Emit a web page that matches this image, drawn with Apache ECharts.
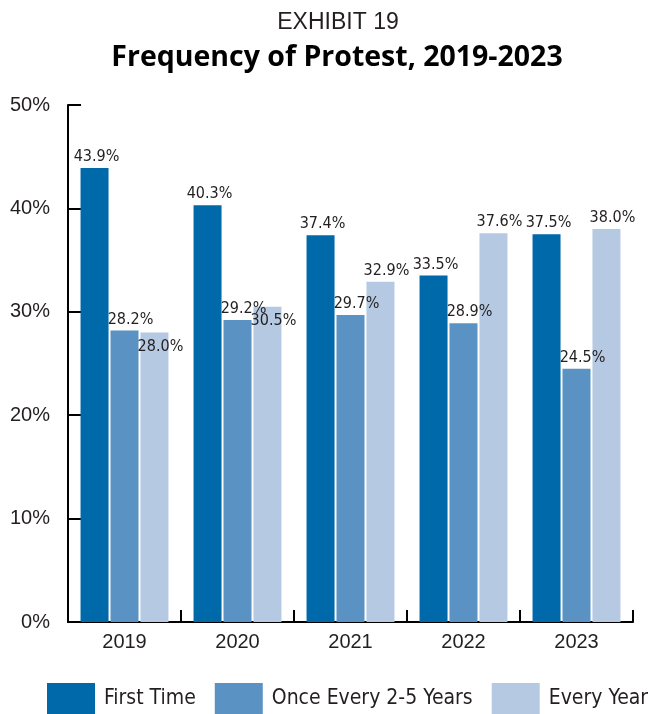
<!DOCTYPE html>
<html>
<head>
<meta charset="utf-8">
<script src="https://cdn.jsdelivr.net/npm/echarts@6/dist/echarts.min.js"></script>
<style>
html,body{margin:0;padding:0;background:#fff;}
#chart{width:648px;height:714px;}
</style>
</head>
<body>
<div id="chart"></div>
<script>
const categories = ['2019', '2020', '2021', '2022', '2023'];
const seriesNames = ['First Time', 'Once Every 2-5 Years', 'Every Year'];
const firstTime = [43.9, 40.3, 37.4, 33.5, 37.5];
const onceEvery = [28.2, 29.2, 29.7, 28.9, 24.5];
const everyYear = [28.0, 30.5, 32.9, 37.6, 38.0];
const colors = ['#0069aa', '#5b92c4', '#b5c9e3'];

// labels drawn inside the top of the bar (series index - data index)
const insideLabel = {'2-0': true, '2-1': true};

const narrow = '"DejaVu Sans Condensed", "Liberation Sans Narrow", sans-serif';
const regular = '"Liberation Sans", "Open Sans", sans-serif';

const chart = echarts.init(document.getElementById('chart'), null, {renderer: 'canvas'});

function mkSeries(si, data) {
  return {
    name: seriesNames[si],
    type: 'bar',
    data: data.map((v, i) => {
      const d = {value: v};
      if (insideLabel[si + '-' + i]) {
        d.label = {position: 'insideTop', distance: 6};
      }
      return d;
    }),
    barWidth: 28,
    barGap: '7%',
    itemStyle: {color: colors[si]},
    label: {
      show: true,
      position: 'top',
      distance: 3,
      offset: [si === 0 ? 2 : 6, 0],
      fontFamily: narrow,
      fontSize: 16,
      color: '#231f20',
      formatter: p => p.value.toFixed(1) + '%'
    }
  };
}

chart.setOption({
  animation: false,
  backgroundColor: '#fff',
  title: [
    {text: 'EXHIBIT 19', left: 333, textAlign: 'center', top: 6,
     textStyle: {fontFamily: regular, fontWeight: 'normal', fontSize: 23, color: '#231f20'}},
    {text: 'Frequency of Protest, 2019-2023', left: 332, textAlign: 'center', top: 38,
     textStyle: {fontFamily: '"Open Sans", sans-serif', fontWeight: 'bold', fontSize: 28.5, color: '#000'}}
  ],
  legend: {
    left: 47, top: 683, width: 640, padding: 0,
    itemWidth: 48, itemHeight: 32, itemGap: 19,
    icon: 'rect',
    textStyle: {fontFamily: narrow, fontSize: 21, color: '#231f20', padding: [0, 0, 0, 4]},
    data: seriesNames
  },
  grid: {left: 68, right: 15, top: 105, bottom: 92},
  xAxis: {
    type: 'category',
    data: categories,
    boundaryGap: true,
    axisLine: {lineStyle: {color: '#000', width: 2}},
    axisTick: {show: true, inside: true, length: 12, alignWithLabel: false, lineStyle: {color: '#000', width: 2}},
    axisLabel: {fontFamily: regular, fontSize: 20, color: '#231f20', margin: 10}
  },
  yAxis: {
    type: 'value',
    min: 0, max: 50, interval: 10,
    axisLine: {show: true, lineStyle: {color: '#000', width: 2}},
    axisTick: {show: true, inside: true, length: 13, lineStyle: {color: '#000', width: 2}},
    splitLine: {show: false},
    axisLabel: {fontFamily: regular, fontSize: 20, color: '#231f20', margin: 18, formatter: '{value}%'}
  },
  series: [
    mkSeries(0, firstTime),
    mkSeries(1, onceEvery),
    mkSeries(2, everyYear)
  ]
});
</script>
</body>
</html>
